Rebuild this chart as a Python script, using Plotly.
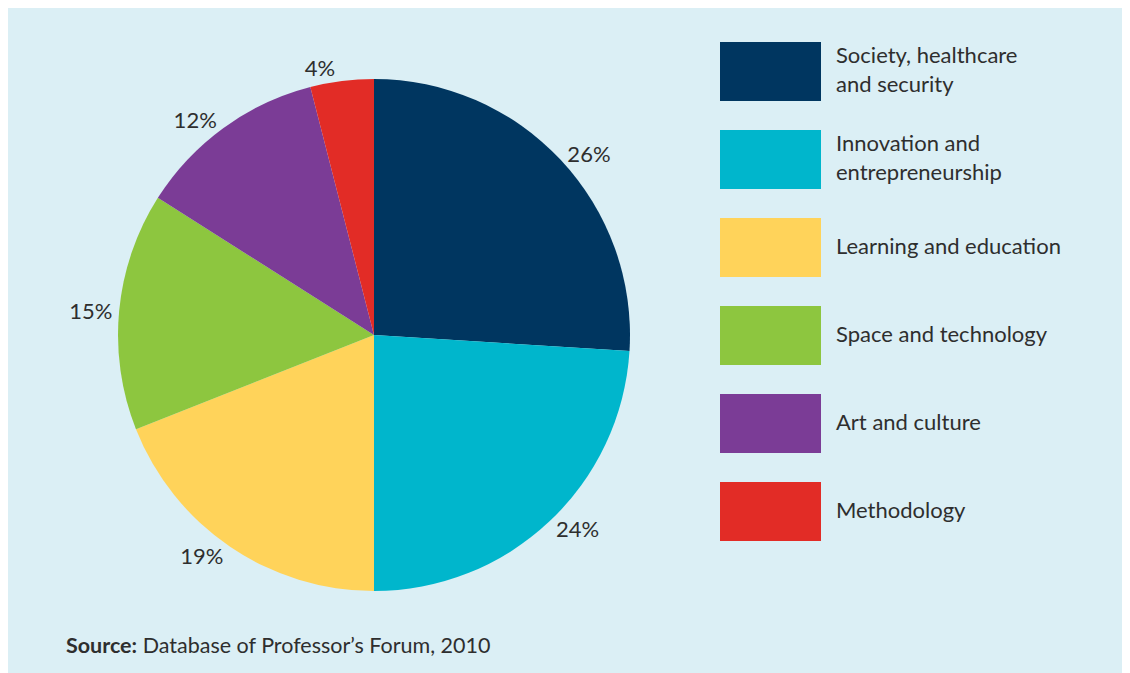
import plotly.graph_objects as go

# Data
categories = [
    "Society, healthcare<br>and security",
    "Innovation and<br>entrepreneurship",
    "Learning and education",
    "Space and technology",
    "Art and culture",
    "Methodology",
]
shares = [26, 24, 19, 15, 12, 4]
colors = ["#003660", "#00b6cc", "#ffd35a", "#8dc63f", "#7b3c96", "#e22c26"]
source_note = "<b>Source:</b> Database of Professor’s Forum, 2010"

# the page body adds an 8 px white margin on top/left; the figure runs past
# the right/bottom window edge so the light panel fills to the border
W, H = 1130, 673
OFF = 8
BG = "#dbeff5"
TEXT = "#2e2e2e"
FONT = "Lato"


def px(x):
    return (x - OFF) / W


def py(y):
    return 1 - (y - OFF) / H


fig = go.Figure(
    go.Pie(
        labels=[c.replace("<br>", " ") for c in categories],
        values=shares,
        sort=False,
        direction="clockwise",
        rotation=0,
        marker=dict(colors=colors, line=dict(width=0)),
        texttemplate="%{value}%",
        textposition="outside",
        outsidetextfont=dict(family=FONT, size=22, color=TEXT),
        hoverinfo="label+percent",
        showlegend=False,
        domain=dict(x=[px(118), px(630)], y=[py(591), py(79)]),
    )
)

# custom legend with large swatches
for i, (cat, col) in enumerate(zip(categories, colors)):
    top = 42 + i * 88
    fig.add_shape(type="rect", xref="paper", yref="paper",
                  x0=px(720), x1=px(821), y0=py(top + 59), y1=py(top),
                  fillcolor=col, line_width=0)
    fig.add_annotation(xref="paper", yref="paper", x=px(834), y=py(top + 27),
                       text=cat, showarrow=False, xanchor="left", yanchor="middle",
                       align="left", font=dict(family=FONT, size=22, color=TEXT))

fig.add_annotation(xref="paper", yref="paper", x=px(64), y=py(645), text=source_note,
                   showarrow=False, xanchor="left", yanchor="middle",
                   font=dict(family=FONT, size=21.5, color=TEXT))

fig.update_layout(
    width=W, height=H,
    margin=dict(l=0, r=0, t=0, b=0),
    paper_bgcolor=BG,
    plot_bgcolor=BG,
    font=dict(family=FONT, color=TEXT),
)

fig.write_html("out.html")
